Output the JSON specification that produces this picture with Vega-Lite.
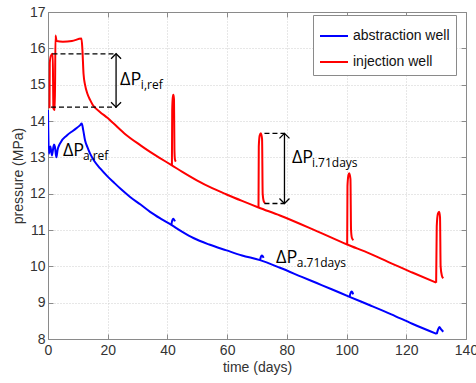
{
  "$schema": "https://vega.github.io/schema/vega-lite/v6.json",
  "width": 418,
  "height": 327,
  "autosize": "none",
  "padding": {"left": 48, "top": 12, "right": 10, "bottom": 44},
  "background": "white",
  "config": {
    "view": {"stroke": "#8a8a8a", "strokeWidth": 1},
    "axis": {
      "labelFont": "Liberation Sans", "labelFontSize": 14, "labelColor": "#333333",
      "titleFont": "Liberation Sans", "titleFontSize": 14, "titleColor": "#333333", "titleFontWeight": "normal",
      "domainColor": "#8a8a8a", "tickColor": "#8a8a8a", "tickSize": -5,
      "gridColor": "#cfcfcf", "gridDash": [1, 2], "gridWidth": 1
    },
    "legend": {
      "orient": "none", "legendX": 265, "legendY": 3,
      "fillColor": "white", "strokeColor": "#8a8a8a", "padding": 6,
      "symbolType": "stroke", "symbolSize": 784, "symbolStrokeWidth": 2,
      "labelFont": "Liberation Sans", "labelFontSize": 14, "labelColor": "#111111",
      "labelOffset": 4, "rowPadding": 4
    }
  },
  "datasets": {
    "curves": [
      {"s": "injection well", "g": "r0", "i": 1, "t": 0.5, "p": 14.35},
      {"s": "injection well", "g": "r0", "i": 2, "t": 0.6, "p": 15.6},
      {"s": "injection well", "g": "r0", "i": 3, "t": 1.0, "p": 15.8},
      {"s": "injection well", "g": "r0", "i": 4, "t": 1.6, "p": 15.85},
      {"s": "injection well", "g": "r0", "i": 5, "t": 1.8, "p": 14.35},
      {"s": "injection well", "g": "r0", "i": 6, "t": 2.3, "p": 14.3},
      {"s": "injection well", "g": "r0", "i": 7, "t": 2.5, "p": 16.35},
      {"s": "injection well", "g": "r0", "i": 8, "t": 2.9, "p": 16.2},
      {"s": "injection well", "g": "r0", "i": 9, "t": 5, "p": 16.18},
      {"s": "injection well", "g": "r0", "i": 10, "t": 8, "p": 16.2},
      {"s": "injection well", "g": "r0", "i": 11, "t": 11.2, "p": 16.27},
      {"s": "injection well", "g": "r0", "i": 12, "t": 11.5, "p": 16.0},
      {"s": "injection well", "g": "r0", "i": 13, "t": 11.9, "p": 15.3},
      {"s": "injection well", "g": "r0", "i": 14, "t": 12.4, "p": 15.0},
      {"s": "injection well", "g": "r0", "i": 15, "t": 13.2, "p": 14.75},
      {"s": "injection well", "g": "r0", "i": 16, "t": 14.1, "p": 14.58},
      {"s": "injection well", "g": "r0", "i": 17, "t": 15.0, "p": 14.44},
      {"s": "injection well", "g": "r0", "i": 18, "t": 17.4, "p": 14.25},
      {"s": "injection well", "g": "r0", "i": 19, "t": 20, "p": 14.08},
      {"s": "injection well", "g": "r0", "i": 20, "t": 22, "p": 13.93},
      {"s": "injection well", "g": "r0", "i": 21, "t": 26, "p": 13.63},
      {"s": "injection well", "g": "r0", "i": 22, "t": 31, "p": 13.33},
      {"s": "injection well", "g": "r0", "i": 23, "t": 34.2, "p": 13.15},
      {"s": "injection well", "g": "r0", "i": 24, "t": 37.5, "p": 12.98},
      {"s": "injection well", "g": "r0", "i": 25, "t": 41.5, "p": 12.78},
      {"s": "injection well", "g": "r0", "i": 26, "t": 45, "p": 12.6},
      {"s": "injection well", "g": "r0", "i": 27, "t": 50, "p": 12.36},
      {"s": "injection well", "g": "r0", "i": 28, "t": 55, "p": 12.15},
      {"s": "injection well", "g": "r0", "i": 29, "t": 60, "p": 11.97},
      {"s": "injection well", "g": "r0", "i": 30, "t": 65, "p": 11.8},
      {"s": "injection well", "g": "r0", "i": 31, "t": 70.5, "p": 11.62},
      {"s": "injection well", "g": "r0", "i": 32, "t": 77.7, "p": 11.4},
      {"s": "injection well", "g": "r0", "i": 33, "t": 90, "p": 10.97},
      {"s": "injection well", "g": "r0", "i": 34, "t": 100.2, "p": 10.6},
      {"s": "injection well", "g": "r0", "i": 35, "t": 107.8, "p": 10.35},
      {"s": "injection well", "g": "r0", "i": 36, "t": 115, "p": 10.08},
      {"s": "injection well", "g": "r0", "i": 37, "t": 122, "p": 9.83},
      {"s": "injection well", "g": "r0", "i": 38, "t": 130, "p": 9.55},

      {"s": "injection well", "g": "r1", "i": 1, "t": 41.5, "p": 12.78},
      {"s": "injection well", "g": "r1", "i": 2, "t": 41.6, "p": 14.3},
      {"s": "injection well", "g": "r1", "i": 3, "t": 41.8, "p": 14.65},
      {"s": "injection well", "g": "r1", "i": 4, "t": 42.0, "p": 14.72},
      {"s": "injection well", "g": "r1", "i": 5, "t": 42.2, "p": 14.6},
      {"s": "injection well", "g": "r1", "i": 6, "t": 42.35, "p": 13.2},
      {"s": "injection well", "g": "r1", "i": 7, "t": 42.5, "p": 12.95},
      {"s": "injection well", "g": "r1", "i": 8, "t": 42.8, "p": 12.88},

      {"s": "injection well", "g": "r2", "i": 1, "t": 70.5, "p": 11.62},
      {"s": "injection well", "g": "r2", "i": 2, "t": 70.6, "p": 13.3},
      {"s": "injection well", "g": "r2", "i": 3, "t": 70.9, "p": 13.6},
      {"s": "injection well", "g": "r2", "i": 4, "t": 71.3, "p": 13.66},
      {"s": "injection well", "g": "r2", "i": 5, "t": 71.7, "p": 13.5},
      {"s": "injection well", "g": "r2", "i": 6, "t": 71.9, "p": 12.0},
      {"s": "injection well", "g": "r2", "i": 7, "t": 72.3, "p": 11.78},
      {"s": "injection well", "g": "r2", "i": 8, "t": 72.7, "p": 11.74},

      {"s": "injection well", "g": "r3", "i": 1, "t": 100.2, "p": 10.6},
      {"s": "injection well", "g": "r3", "i": 2, "t": 100.3, "p": 12.2},
      {"s": "injection well", "g": "r3", "i": 3, "t": 100.6, "p": 12.5},
      {"s": "injection well", "g": "r3", "i": 4, "t": 100.9, "p": 12.56},
      {"s": "injection well", "g": "r3", "i": 5, "t": 101.3, "p": 12.4},
      {"s": "injection well", "g": "r3", "i": 6, "t": 101.5, "p": 11.0},
      {"s": "injection well", "g": "r3", "i": 7, "t": 101.8, "p": 10.78},
      {"s": "injection well", "g": "r3", "i": 8, "t": 102.3, "p": 10.72},

      {"s": "injection well", "g": "r4", "i": 1, "t": 130, "p": 9.55},
      {"s": "injection well", "g": "r4", "i": 2, "t": 130.2, "p": 11.1},
      {"s": "injection well", "g": "r4", "i": 3, "t": 130.6, "p": 11.45},
      {"s": "injection well", "g": "r4", "i": 4, "t": 131.0, "p": 11.5},
      {"s": "injection well", "g": "r4", "i": 5, "t": 131.3, "p": 11.35},
      {"s": "injection well", "g": "r4", "i": 6, "t": 131.5, "p": 10.0},
      {"s": "injection well", "g": "r4", "i": 7, "t": 131.9, "p": 9.75},
      {"s": "injection well", "g": "r4", "i": 8, "t": 132.4, "p": 9.67},

      {"s": "abstraction well", "g": "b0", "i": 1, "t": 0, "p": 14.3},
      {"s": "abstraction well", "g": "b0", "i": 2, "t": 0.3, "p": 13.1},
      {"s": "abstraction well", "g": "b0", "i": 3, "t": 0.8, "p": 13.3},
      {"s": "abstraction well", "g": "b0", "i": 4, "t": 1.3, "p": 13.05},
      {"s": "abstraction well", "g": "b0", "i": 5, "t": 2.0, "p": 13.35},
      {"s": "abstraction well", "g": "b0", "i": 6, "t": 2.3, "p": 13.3},
      {"s": "abstraction well", "g": "b0", "i": 7, "t": 2.8, "p": 13.0},
      {"s": "abstraction well", "g": "b0", "i": 8, "t": 3.2, "p": 13.2},
      {"s": "abstraction well", "g": "b0", "i": 9, "t": 4, "p": 13.38},
      {"s": "abstraction well", "g": "b0", "i": 10, "t": 6.3, "p": 13.6},
      {"s": "abstraction well", "g": "b0", "i": 11, "t": 8.5, "p": 13.74},
      {"s": "abstraction well", "g": "b0", "i": 12, "t": 10.7, "p": 13.88},
      {"s": "abstraction well", "g": "b0", "i": 13, "t": 11.3, "p": 13.93},
      {"s": "abstraction well", "g": "b0", "i": 14, "t": 11.8, "p": 13.75},
      {"s": "abstraction well", "g": "b0", "i": 15, "t": 12.4, "p": 13.47},
      {"s": "abstraction well", "g": "b0", "i": 16, "t": 13.2, "p": 13.28},
      {"s": "abstraction well", "g": "b0", "i": 17, "t": 14.1, "p": 13.1},
      {"s": "abstraction well", "g": "b0", "i": 18, "t": 15.5, "p": 12.9},
      {"s": "abstraction well", "g": "b0", "i": 19, "t": 17.4, "p": 12.7},
      {"s": "abstraction well", "g": "b0", "i": 20, "t": 20, "p": 12.47},
      {"s": "abstraction well", "g": "b0", "i": 21, "t": 21.9, "p": 12.32},
      {"s": "abstraction well", "g": "b0", "i": 22, "t": 24.5, "p": 12.12},
      {"s": "abstraction well", "g": "b0", "i": 23, "t": 27.5, "p": 11.91},
      {"s": "abstraction well", "g": "b0", "i": 24, "t": 31, "p": 11.7},
      {"s": "abstraction well", "g": "b0", "i": 25, "t": 34.2, "p": 11.5},
      {"s": "abstraction well", "g": "b0", "i": 26, "t": 38, "p": 11.3},
      {"s": "abstraction well", "g": "b0", "i": 27, "t": 41.3, "p": 11.14},
      {"s": "abstraction well", "g": "b0", "i": 28, "t": 45, "p": 10.95},
      {"s": "abstraction well", "g": "b0", "i": 29, "t": 48.7, "p": 10.78},
      {"s": "abstraction well", "g": "b0", "i": 30, "t": 54, "p": 10.6},
      {"s": "abstraction well", "g": "b0", "i": 31, "t": 59.8, "p": 10.44},
      {"s": "abstraction well", "g": "b0", "i": 32, "t": 65, "p": 10.3},
      {"s": "abstraction well", "g": "b0", "i": 33, "t": 71, "p": 10.17},
      {"s": "abstraction well", "g": "b0", "i": 34, "t": 77.7, "p": 9.96},
      {"s": "abstraction well", "g": "b0", "i": 35, "t": 85, "p": 9.71},
      {"s": "abstraction well", "g": "b0", "i": 36, "t": 90, "p": 9.54},
      {"s": "abstraction well", "g": "b0", "i": 37, "t": 95, "p": 9.37},
      {"s": "abstraction well", "g": "b0", "i": 38, "t": 101, "p": 9.16},
      {"s": "abstraction well", "g": "b0", "i": 39, "t": 107.8, "p": 8.93},
      {"s": "abstraction well", "g": "b0", "i": 40, "t": 115, "p": 8.68},
      {"s": "abstraction well", "g": "b0", "i": 41, "t": 122, "p": 8.42},
      {"s": "abstraction well", "g": "b0", "i": 42, "t": 130.2, "p": 8.14},

      {"s": "abstraction well", "g": "b1", "i": 1, "t": 41.3, "p": 11.14},
      {"s": "abstraction well", "g": "b1", "i": 2, "t": 41.6, "p": 11.26},
      {"s": "abstraction well", "g": "b1", "i": 3, "t": 41.9, "p": 11.31},
      {"s": "abstraction well", "g": "b1", "i": 4, "t": 42.2, "p": 11.29},
      {"s": "abstraction well", "g": "b1", "i": 5, "t": 42.5, "p": 11.24},

      {"s": "abstraction well", "g": "b2", "i": 1, "t": 71, "p": 10.17},
      {"s": "abstraction well", "g": "b2", "i": 2, "t": 71.3, "p": 10.26},
      {"s": "abstraction well", "g": "b2", "i": 3, "t": 71.6, "p": 10.3},
      {"s": "abstraction well", "g": "b2", "i": 4, "t": 71.9, "p": 10.28},
      {"s": "abstraction well", "g": "b2", "i": 5, "t": 72.2, "p": 10.23},

      {"s": "abstraction well", "g": "b3", "i": 1, "t": 101, "p": 9.16},
      {"s": "abstraction well", "g": "b3", "i": 2, "t": 101.3, "p": 9.26},
      {"s": "abstraction well", "g": "b3", "i": 3, "t": 101.6, "p": 9.31},
      {"s": "abstraction well", "g": "b3", "i": 4, "t": 101.9, "p": 9.29},
      {"s": "abstraction well", "g": "b3", "i": 5, "t": 102.2, "p": 9.23},

      {"s": "abstraction well", "g": "b4", "i": 1, "t": 130.2, "p": 8.14},
      {"s": "abstraction well", "g": "b4", "i": 2, "t": 130.6, "p": 8.25},
      {"s": "abstraction well", "g": "b4", "i": 3, "t": 131.1, "p": 8.33},
      {"s": "abstraction well", "g": "b4", "i": 4, "t": 131.6, "p": 8.27},
      {"s": "abstraction well", "g": "b4", "i": 5, "t": 132.4, "p": 8.2}
    ],
    "dashes": [
      {"t1": 1.5, "t2": 23.0, "p": 15.85},
      {"t1": 1.0, "t2": 23.0, "p": 14.38},
      {"t1": 72.5, "t2": 79.2, "p": 13.66},
      {"t1": 72.5, "t2": 79.2, "p": 11.73}
    ],
    "shafts": [
      {"t": 22.8, "p1": 14.38, "p2": 15.85},
      {"t": 79.2, "p1": 11.73, "p2": 13.66}
    ],
    "heads": [
      {"t": 22.8, "p": 15.85, "dir": "up"},
      {"t": 22.8, "p": 14.38, "dir": "down"},
      {"t": 79.2, "p": 13.66, "dir": "up"},
      {"t": 79.2, "p": 11.73, "dir": "down"}
    ],
    "labels": [
      {"t": 24.1, "p": 15.0, "txt": "ΔP", "k": "main"},
      {"t": 31.1, "p": 14.88, "txt": "i,ref", "k": "sub"},
      {"t": 5.0, "p": 13.05, "txt": "ΔP", "k": "main"},
      {"t": 11.7, "p": 12.92, "txt": "a,ref", "k": "sub"},
      {"t": 81.7, "p": 12.84, "txt": "ΔP", "k": "main"},
      {"t": 88.4, "p": 12.74, "txt": "i.71days", "k": "sub"},
      {"t": 76.4, "p": 10.09, "txt": "ΔP", "k": "main"},
      {"t": 83.3, "p": 9.98, "txt": "a.71days", "k": "sub"}
    ]
  },
  "layer": [
    {
      "data": {"name": "curves"},
      "mark": {"type": "line", "strokeWidth": 2, "clip": true, "interpolate": "monotone"},
      "encoding": {
        "x": {"field": "t", "type": "quantitative", "scale": {"domain": [0, 140], "nice": false}, "axis": {"values": [0, 20, 40, 60, 80, 100, 120, 140], "title": "time (days)", "labelPadding": 9, "titlePadding": 3, "labelFlush": false}},
        "y": {"field": "p", "type": "quantitative", "scale": {"domain": [8, 17], "nice": false, "zero": false}, "axis": {"values": [8, 9, 10, 11, 12, 13, 14, 15, 16, 17], "title": "pressure (MPa)", "labelPadding": 8, "titlePadding": 4}},
        "color": {"field": "s", "type": "nominal", "scale": {"domain": ["abstraction well", "injection well"], "range": ["#0000ff", "#ff0000"]}, "legend": {"title": null}},
        "detail": {"field": "g"},
        "order": {"field": "i", "type": "quantitative"}
      }
    },
    {
      "data": {"name": "dashes"},
      "mark": {"type": "rule", "color": "black", "strokeWidth": 1.3, "strokeDash": [5, 3]},
      "encoding": {
        "x": {"field": "t1", "type": "quantitative", "axis": {"orient": "top", "labels": false, "title": null, "grid": false, "values": [0, 20, 40, 60, 80, 100, 120, 140]}},
        "x2": {"field": "t2"},
        "y": {"field": "p", "type": "quantitative", "axis": {"orient": "right", "labels": false, "title": null, "grid": false, "values": [8, 9, 10, 11, 12, 13, 14, 15, 16, 17]}}
      }
    },
    {
      "data": {"name": "shafts"},
      "mark": {"type": "rule", "color": "black", "strokeWidth": 1.3},
      "encoding": {
        "x": {"field": "t", "type": "quantitative", "axis": null},
        "y": {"field": "p1", "type": "quantitative", "axis": null},
        "y2": {"field": "p2"}
      }
    },
    {
      "data": {"name": "heads"},
      "mark": {"type": "point", "filled": false, "stroke": "black", "strokeWidth": 1.3, "opacity": 1, "size": 100},
      "encoding": {
        "x": {"field": "t", "type": "quantitative", "axis": null},
        "y": {"field": "p", "type": "quantitative", "axis": null},
        "shape": {"field": "dir", "type": "nominal", "scale": {"domain": ["up", "down"], "range": ["M-1,1L0,0L1,1", "M-1,-1L0,0L1,-1"]}, "legend": null}
      }
    },
    {
      "data": {"name": "labels"},
      "transform": [{"filter": "datum.k == 'main'"}],
      "mark": {"type": "text", "align": "left", "baseline": "alphabetic", "font": "Open Sans", "fontSize": 18, "color": "black"},
      "encoding": {
        "x": {"field": "t", "type": "quantitative", "axis": null},
        "y": {"field": "p", "type": "quantitative", "axis": null},
        "text": {"field": "txt"}
      }
    },
    {
      "data": {"name": "labels"},
      "transform": [{"filter": "datum.k == 'sub'"}],
      "mark": {"type": "text", "align": "left", "baseline": "alphabetic", "font": "Open Sans", "fontSize": 12, "color": "black"},
      "encoding": {
        "x": {"field": "t", "type": "quantitative", "axis": null},
        "y": {"field": "p", "type": "quantitative", "axis": null},
        "text": {"field": "txt"}
      }
    }
  ],
  "resolve": {"axis": {"x": "independent", "y": "independent"}}
}
